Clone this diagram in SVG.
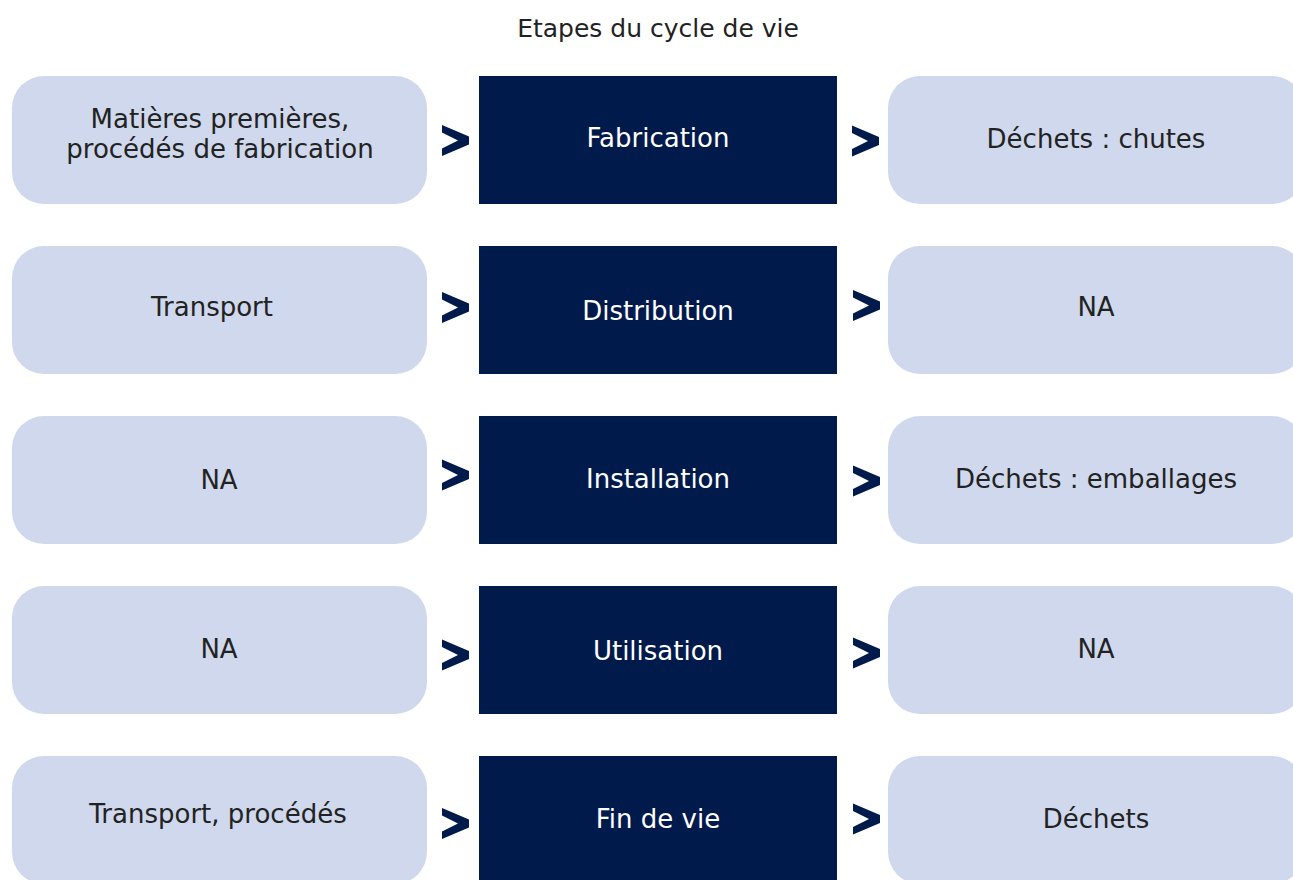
<svg xmlns="http://www.w3.org/2000/svg" xmlns:xlink="http://www.w3.org/1999/xlink" width="1293" height="880" viewBox="0 0 1293 880">
<style>
  .side { fill: #CFD8EC; }
  .stage { fill: #001A4B; }
  .t { font-family: "DejaVu Sans", Verdana, sans-serif; font-size: 26px; text-anchor: middle; }
  .dark { fill: #222222; }
  .light { fill: #FFFFFF; }
  .title { font-family: "DejaVu Sans", Verdana, sans-serif; font-size: 25px; text-anchor: middle; fill: #222222; }
  .chev { fill: #001A4B; }
</style>
<defs>
  <path id="chev" d="M0,0 L27,11.5 L27,19.5 L0,31 L0,23.5 L16,15.5 L0,7.5 Z"/>
</defs>
<rect width="1293" height="880" fill="#FFFFFF"/>
<text id="title" class="title" x="658" y="37">Etapes du cycle de vie</text>

<g id="row1">
  <g id="n-matieres"><rect class="side" x="12" y="76" width="415" height="128" rx="32"/>
    <text class="t dark" x="220" y="128">Matières premières,</text>
    <text class="t dark" x="220" y="158">procédés de fabrication</text></g>
  <g id="n-fabrication"><rect class="stage" x="479" y="76" width="358" height="128"/>
    <text class="t light" x="658" y="147">Fabrication</text></g>
  <g id="n-chutes"><rect class="side" x="888" y="76" width="416" height="128" rx="32"/>
    <text class="t dark" x="1096" y="148">Déchets : chutes</text></g>
</g>
<g id="row2">
  <g id="n-transport"><rect class="side" x="12" y="246" width="415" height="128" rx="32"/>
    <text class="t dark" x="212" y="316">Transport</text></g>
  <g id="n-distribution"><rect class="stage" x="479" y="246" width="358" height="128"/>
    <text class="t light" x="658" y="320">Distribution</text></g>
  <g id="n-na2"><rect class="side" x="888" y="246" width="416" height="128" rx="32"/>
    <text class="t dark" x="1096" y="316">NA</text></g>
</g>
<g id="row3">
  <g id="n-na3l"><rect class="side" x="12" y="416" width="415" height="128" rx="32"/>
    <text class="t dark" x="219" y="489">NA</text></g>
  <g id="n-installation"><rect class="stage" x="479" y="416" width="358" height="128"/>
    <text class="t light" x="658" y="488">Installation</text></g>
  <g id="n-emballages"><rect class="side" x="888" y="416" width="416" height="128" rx="32"/>
    <text class="t dark" x="1096" y="488">Déchets : emballages</text></g>
</g>
<g id="row4">
  <g id="n-na4l"><rect class="side" x="12" y="586" width="415" height="128" rx="32"/>
    <text class="t dark" x="219" y="658">NA</text></g>
  <g id="n-utilisation"><rect class="stage" x="479" y="586" width="358" height="128"/>
    <text class="t light" x="658" y="660">Utilisation</text></g>
  <g id="n-na4r"><rect class="side" x="888" y="586" width="416" height="128" rx="32"/>
    <text class="t dark" x="1096" y="658">NA</text></g>
</g>
<g id="row5">
  <g id="n-transport2"><rect class="side" x="12" y="756" width="415" height="128" rx="32"/>
    <text class="t dark" x="218" y="823">Transport, procédés</text></g>
  <g id="n-findevie"><rect class="stage" x="479" y="756" width="358" height="128"/>
    <text class="t light" x="658" y="828">Fin de vie</text></g>
  <g id="n-dechets"><rect class="side" x="888" y="756" width="416" height="128" rx="32"/>
    <text class="t dark" x="1096" y="828">Déchets</text></g>
</g>

<g id="connectors" class="chev">
  <use xlink:href="#chev" href="#chev" x="442" y="125"/>
  <use xlink:href="#chev" href="#chev" x="852" y="125.5"/>
  <use xlink:href="#chev" href="#chev" x="442" y="292"/>
  <use xlink:href="#chev" href="#chev" x="853" y="290"/>
  <use xlink:href="#chev" href="#chev" x="442" y="459.5"/>
  <use xlink:href="#chev" href="#chev" x="853" y="465.5"/>
  <use xlink:href="#chev" href="#chev" x="442" y="639.5"/>
  <use xlink:href="#chev" href="#chev" x="853" y="637.5"/>
  <use xlink:href="#chev" href="#chev" x="442" y="808"/>
  <use xlink:href="#chev" href="#chev" x="853" y="803.5"/>
</g>
</svg>
